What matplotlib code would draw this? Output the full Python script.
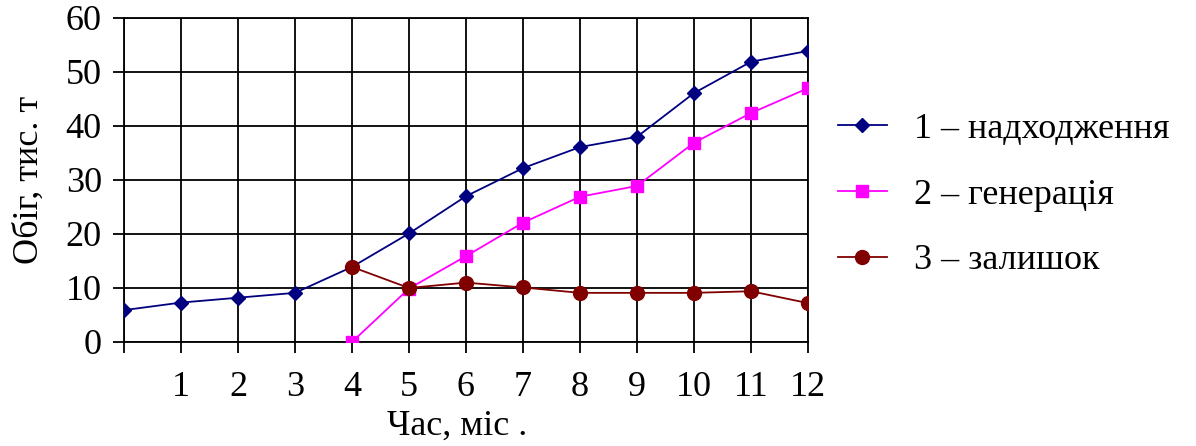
import matplotlib.pyplot as plt
import numpy as np

plt.rcParams['font.family'] = ['Liberation Serif', 'DejaVu Serif']

# months
months = list(range(0, 13))
months_b = list(range(4, 13))

# 1 - надходження
inflow = [5.9, 7.3, 8.2, 9.1, 13.9, 20.1, 27.0, 32.2, 36.1, 38.0, 46.1, 51.9, 53.9]
# 2 - генерація
generation = [0, 9.9, 15.9, 22.1, 26.9, 28.9, 36.9, 42.4, 47.0]
# 3 - залишок
remainder = [13.9, 10.0, 11.0, 10.1, 9.1, 9.1, 9.1, 9.4, 7.2]

xtick_labels = [''] + [str(m) for m in range(1, 13)]
ytick_vals = [0, 10, 20, 30, 40, 50, 60]

fig = plt.figure(figsize=(11.96, 4.46), dpi=100)
ax = fig.add_axes([124/1196, 1-342/446, (808-124)/1196, (342-18)/446])

l1, = ax.plot(months, inflow, color='#000080', lw=1.3, marker='D', ms=7, zorder=3)
l2, = ax.plot(months_b, generation, color='#FF00FF', lw=1.3, marker='s', ms=9, zorder=3)
l3, = ax.plot(months_b, remainder, color='#800000', lw=1.3, marker='o', ms=10, zorder=4)

ax.set_xlim(0, 12)
ax.set_ylim(0, 60)
ax.set_xticks(months)
ax.set_xticklabels(xtick_labels)
ax.set_yticks(ytick_vals)
ax.grid(True, color='black', lw=1.3)
ax.set_axisbelow(True)
for s in ax.spines.values():
    s.set_color('black')
    s.set_linewidth(1.3)
ax.tick_params(axis='x', length=8, width=1.3, pad=13, labelsize=26)
ax.tick_params(axis='y', length=8, width=1.3, pad=8, labelsize=26)

ax.set_xlabel('Час, міс .', fontsize=26, labelpad=6)
ax.xaxis.set_label_coords(0.487, -0.21)
ax.set_ylabel('Обіг, тис. т', fontsize=26, labelpad=14)

fig.legend([l1, l2, l3], ['1 – надходження', '2 – генерація', '3 – залишок'],
           loc='center left', bbox_to_anchor=(838/1196, 1-195/446),
           frameon=False, fontsize=26, handlelength=1.35, handletextpad=0.75,
           labelspacing=0.9, borderpad=0, borderaxespad=0)

plt.savefig('out.png', dpi=100)
